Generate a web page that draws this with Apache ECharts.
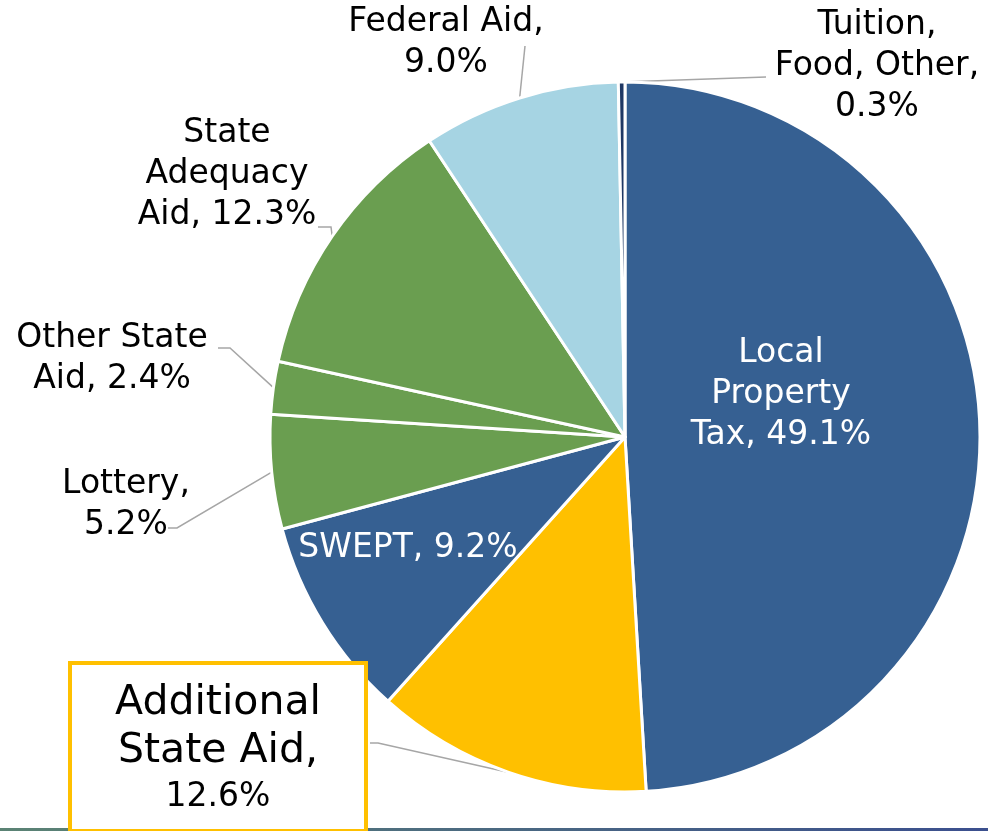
<!DOCTYPE html>
<html>
<head>
<meta charset="utf-8">
<script src="https://cdn.jsdelivr.net/npm/echarts@6/dist/echarts.min.js"></script>
<style>
html,body{margin:0;padding:0;background:#fff;}
#chart{width:988px;height:831px;}
</style>
</head>
<body>
<div id="chart"></div>
<script>
// ---- data ----
const categories = ['Local Property Tax', 'Additional State Aid', 'SWEPT', 'Lottery', 'Other State Aid', 'State Adequacy Aid', 'Federal Aid', 'Tuition, Food, Other'];
const values = [49.1, 12.6, 9.2, 5.2, 2.4, 12.3, 9.0, 0.3];
// label text templates ({v} = value)
const labelTemplates = [
  'Local\nProperty\nTax, {v}',
  'Additional\nState Aid,\n{v}',
  'SWEPT, {v}',
  'Lottery,\n{v}',
  'Other State\nAid, {v}',
  'State\nAdequacy\nAid, {v}',
  'Federal Aid,\n{v}',
  'Tuition,\nFood, Other,\n{v}'
];
const colors = ['#366092', '#FFC000', '#366092', '#6A9E50', '#6A9E50', '#6A9E50', '#A6D4E3', '#1F3864'];

// ---- label placement (annotation layout) ----
const labelPlacement = {
  'Local Property Tax': { x: 781, y: 394, inside: true },
  'Additional State Aid': { x: 218, y: 665, va: 'top', boxed: true, line: [[378, 743], [370, 743]] },
  'SWEPT': { x: 408, y: 548, inside: true },
  'Lottery': { x: 126, y: 505, line: [[177, 528], [168, 528]] },
  'Other State Aid': { x: 112, y: 359, line: [[230, 348], [218, 348]] },
  'State Adequacy Aid': { x: 227, y: 174, line: [[331, 227], [318, 227]] },
  'Federal Aid': { x: 446, y: 43, line: [[525, 46]] },
  'Tuition, Food, Other': { x: 877, y: 66, line: [[766, 77]] }
};

const FONT = 'DejaVu Sans';

const seriesData = categories.map((name, i) => {
  const cfg = labelPlacement[name];
  const text = labelTemplates[i].replace('{v}', values[i].toFixed(1) + '%');
  const item = {
    name: name,
    value: values[i],
    itemStyle: { color: colors[i] },
    label: { formatter: text }
  };
  if (cfg.inside) {
    item.label.position = 'inside';
    item.label.color = '#ffffff';
    item.labelLine = { show: false };
  }
  if (cfg.boxed) {
    const parts = text.split('\n');
    item.label.formatter = '{a|' + parts[0] + '}\n{a|' + parts[1] + '}\n{b|' + parts[2] + '}';
    item.label.backgroundColor = '#ffffff';
    item.label.borderColor = '#FFC000';
    item.label.borderWidth = 4;
    item.label.width = 292;
    item.label.padding = [14, 0, 10, 0];
    item.label.rich = {
      a: { fontFamily: FONT, fontSize: 41, lineHeight: 48, color: '#000', align: 'center' },
      b: { fontFamily: FONT, fontSize: 33, lineHeight: 44, color: '#000', align: 'center' }
    };
  }
  return item;
});

const chart = echarts.init(document.getElementById('chart'), null, { renderer: 'canvas' });
chart.setOption({
  animation: false,
  backgroundColor: '#ffffff',
  graphic: [{
    type: 'rect',
    z: 0,
    shape: { x: 0, y: 828, width: 988, height: 3 },
    style: {
      fill: new echarts.graphic.LinearGradient(0, 0, 1, 0, [
        { offset: 0, color: '#5B8374' },
        { offset: 1, color: '#3B4F8E' }
      ])
    }
  }],
  series: [{
    type: 'pie',
    z: 3,
    center: [625, 437],
    radius: 355,
    startAngle: 90,
    clockwise: true,
    avoidLabelOverlap: false,
    itemStyle: { borderColor: '#ffffff', borderWidth: 3 },
    label: {
      show: true,
      position: 'outside',
      fontFamily: FONT,
      fontSize: 33,
      lineHeight: 41,
      color: '#000000',
      align: 'center'
    },
    labelLine: {
      show: true,
      length: 20,
      length2: 10,
      lineStyle: { color: '#A6A6A6', width: 1.5 }
    },
    emphasis: { disabled: true },
    labelLayout: function (params) {
      const name = categories[params.dataIndex];
      const cfg = labelPlacement[name];
      const res = { x: cfg.x, y: cfg.y, align: 'center', verticalAlign: cfg.va || 'middle' };
      if (cfg.line && params.labelLinePoints) {
        res.labelLinePoints = [params.labelLinePoints[0]].concat(cfg.line);
      }
      return res;
    },
    data: seriesData
  }]
});
</script>
</body>
</html>
